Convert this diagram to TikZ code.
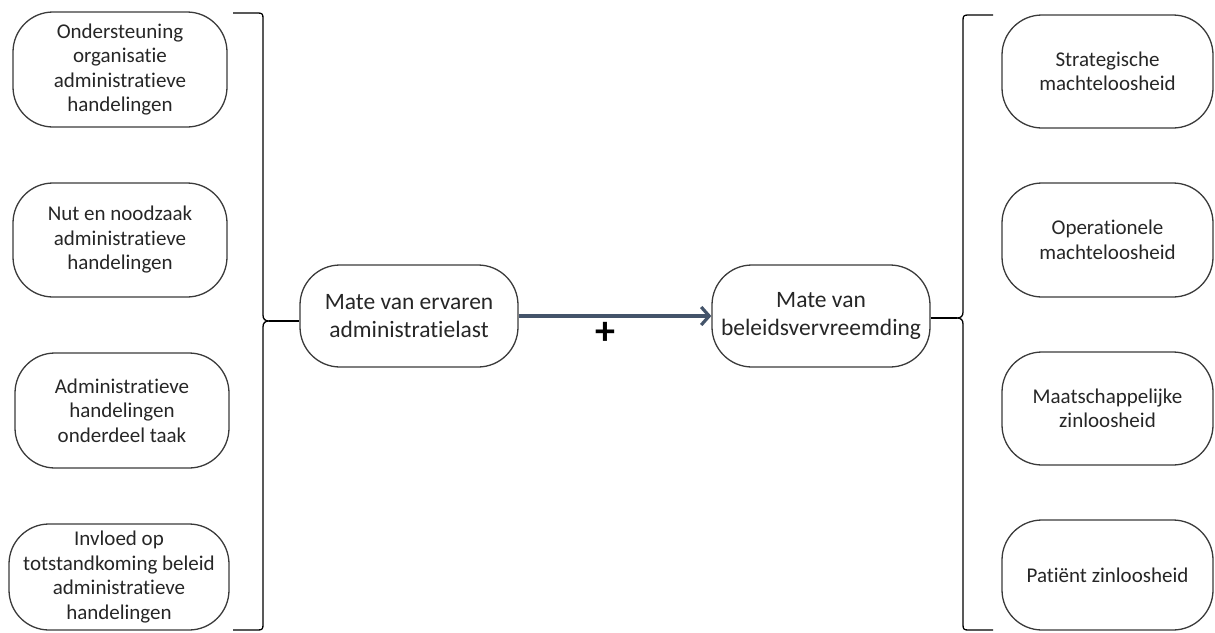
\documentclass[tikz,border=0pt]{standalone}
\usepackage{fontspec}
\setmainfont{Carlito}[Ligatures=NoCommon]
\usetikzlibrary{arrows.meta}
\definecolor{txt}{HTML}{262626}
\definecolor{edge}{HTML}{3A3A3A}
\definecolor{arrowblue}{HTML}{44546A}
\tikzset{
  box/.style={draw=edge, line width=1.3pt, rounded corners=40pt, inner sep=0pt,
    align=center, text=txt, font=\fontsize{21}{24.5}\selectfont},
  mainbox/.style={box, font=\fontsize{23.5}{28.5}\selectfont},
  brace/.style={draw=black, line width=1.3pt},
  link/.style={draw=black, line width=1.3pt},
  causal/.style={draw=arrowblue, line width=3.2pt, -{Straight Barb[length=8pt,width=18pt]}},
}
\begin{document}
\begin{tikzpicture}[x=1pt,y=-1pt]
\useasboundingbox (0,0) rectangle (1215,632);
% left column
\node[box, minimum width=214pt, minimum height=115pt] (l1) at (120,69.5) {Ondersteuning\\organisatie\\administratieve\\handelingen};
\node[box, minimum width=214pt, minimum height=114pt] (l2) at (120,240) {Nut en noodzaak\\administratieve\\handelingen};
\node[box, minimum width=214pt, minimum height=115pt] (l3) at (122,410.5) {Administratieve\\handelingen\\onderdeel taak};
\node[box, minimum width=220pt, minimum height=106pt] (l4) at (119,577) {Invloed op\\totstandkoming beleid\\administratieve\\handelingen};
% centre
\node[mainbox, minimum width=218pt, minimum height=102pt] (cl) at (409,316) {Mate van ervaren\\administratielast};
\node[mainbox, minimum width=218pt, minimum height=102pt] (cr) at (821,316) {Mate van\\beleidsvervreemding};
% right column
\node[box, minimum width=211pt, minimum height=113pt] (r1) at (1107.5,71.5) {Strategische\\machteloosheid};
\node[box, minimum width=211pt, minimum height=114pt] (r2) at (1107.5,240) {Operationele\\machteloosheid};
\node[box, minimum width=211pt, minimum height=113pt] (r3) at (1107.5,408.5) {Maatschappelijke\\zinloosheid};
\node[box, minimum width=211pt, minimum height=110pt] (r4) at (1107.5,575) {Patiënt zinloosheid};
% left brace
\coordinate (lt) at (269,321);
\draw[brace] (233,13) -- (258,13) .. controls (262,13) and (263,14) .. (263,18)
  -- (263,315) .. controls (263,319) and (265,321) .. (lt)
  .. controls (265,321) and (263,323) .. (263,327)
  -- (263,625) .. controls (263,629) and (262,630) .. (258,630) -- (233,630);
\draw[link] (lt) -- (cl.west |- lt);
% right brace
\coordinate (rt) at (957,318);
\draw[brace] (993,15) -- (968,15) .. controls (964,15) and (963,16) .. (963,20)
  -- (963,312) .. controls (963,316) and (961,318) .. (rt)
  .. controls (961,318) and (963,320) .. (963,324)
  -- (963,625) .. controls (963,629) and (964,630) .. (968,630) -- (993,630);
\draw[link] (cr.east |- rt) -- (rt);
% causal arrow
\draw[causal] (cl.east) -- (cr.west);
\node[text=black, font=\fontsize{40}{40}\selectfont\bfseries] (plus) at (605,333) {+};
\end{tikzpicture}
\end{document}
